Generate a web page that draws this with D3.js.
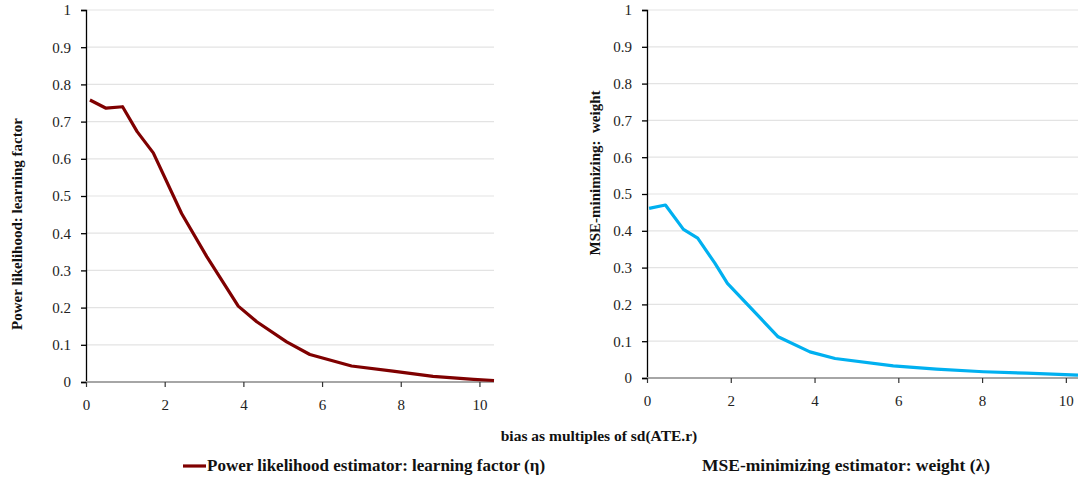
<!DOCTYPE html>
<html>
<head>
<script src='https://d3js.org/d3.v7.min.js'></script>
<style>
body {margin:0; background:#fff;}
.grid line {stroke:#e3e3e3; stroke-width:1.2;}
</style>
</head>
<body>
<svg id='chart' width=1078 height=477></svg>
<script>
// values
var yTicks = [0,0.1,0.2,0.3,0.4,0.5,0.6,0.7,0.8,0.9,1]
var xTicks = [0,2,4,6,8,10]

var etaBias = [0.1,0.51,0.93,1.3,1.71,2.43,3.07,3.87,4.34,5.1,5.69,6.75,7.8,8.82,9.85,10.37]
var etaVals = [0.758,0.736,0.740,0.673,0.616,0.453,0.337,0.204,0.162,0.108,0.074,0.043,0.029,0.015,0.007,0.004]

var lamBias = [0.05,0.44,0.87,1.21,1.62,1.92,3.13,3.89,4.49,5.88,6.91,8.03,9.06,10.29]
var lamVals = [0.461,0.470,0.404,0.380,0.312,0.257,0.112,0.071,0.053,0.033,0.024,0.017,0.013,0.008]

var serif = "'Liberation Serif', 'DejaVu Serif', serif"
var svg = d3.select('#chart')

function panel(opt) {
  var x = d3.scaleLinear().domain([0,opt.xmax]).range([opt.left,opt.right])
  var y = d3.scaleLinear().domain([0,1]).range([opt.bottom,opt.top])

  //gridlines
  svg.append('g').attr('class','grid')
    .selectAll('line').data(yTicks.slice(1)).enter().append('line')
      .attr('x1',opt.left).attr('x2',opt.right)
      .attr('y1',function(d){return y(d)}).attr('y2',function(d){return y(d)})

  //y axis
  var ya = svg.append('g')
     .attr('transform','translate('+opt.left+',0)')
     .call(d3.axisLeft(y).tickValues(yTicks).tickSize(5).tickPadding(10)
        .tickFormat(function(d){return d==0||d==1 ? d : d3.format('.1f')(d)}))
  ya.attr('font-family',serif)
  ya.select('.domain').attr('stroke','#000').attr('stroke-width',1.3)
  ya.selectAll('.tick line').attr('stroke','#000').attr('stroke-width',1.3)
  ya.selectAll('text').style('font-size','15px').style('font-family',serif).attr('fill','#222')

  //x axis
  var xa = svg.append('g')
     .attr('transform','translate(0,'+opt.bottom+')')
     .call(d3.axisBottom(x).tickValues(xTicks).tickSize(5).tickPadding(opt.xpad))
  xa.attr('font-family',serif)
  xa.select('.domain').attr('stroke','#a6a6a6').attr('stroke-width',2.2).attr('d','M'+opt.left+',0H'+opt.right)
  xa.selectAll('.tick line').attr('stroke','#333').attr('stroke-width',1.2)
  xa.selectAll('text').style('font-size','15px').style('font-family',serif).attr('fill','#222')

  //line
  var line = d3.line().x(function(d){return x(d[0])}).y(function(d){return y(d[1])})
  svg.append('path')
    .datum(d3.zip(opt.bias,opt.vals))
    .attr('d',line)
    .attr('fill','none')
    .attr('stroke',opt.color)
    .attr('stroke-width',3.2)
    .attr('stroke-linejoin','round')

  //y label
  svg.append('text')
    .attr('text-anchor','middle')
    .attr('transform','translate('+opt.labx+','+opt.laby+') rotate(-90)')
    .style('font-family',serif).style('font-weight','bold').style('font-size','15px')
    .style('white-space','pre').attr('fill','#111')
    .text(opt.title)
}

panel({left:86,right:494,top:10,bottom:382,xmax:10.37,xpad:12,
       bias:etaBias,vals:etaVals,color:'#7f0000',
       labx:22,laby:224,title:'Power likelihood: learning factor'})

panel({left:647,right:1078,top:10,bottom:378,xmax:10.29,xpad:12,
       bias:lamBias,vals:lamVals,color:'#00b0f0',
       labx:600,laby:173,title:'MSE-minimizing:  weight'})

//x axis title
svg.append('text')
  .attr('text-anchor','middle')
  .attr('x',599).attr('y',441)
  .style('font-family',serif).style('font-weight','bold').style('font-size','15.5px').attr('fill','#111')
  .text('bias as multiples of sd(ATE.r)')

//legend
svg.append('line')
  .attr('x1',183).attr('x2',206).attr('y1',466).attr('y2',466)
  .attr('stroke','#7f0000').attr('stroke-width',3.2)
svg.append('text')
  .attr('x',207).attr('y',471)
  .style('font-family',serif).style('font-weight','bold').style('font-size','17px').attr('fill','#111')
  .text('Power likelihood estimator: learning factor (η)')
svg.append('text')
  .attr('x',702).attr('y',471)
  .style('font-family',serif).style('font-weight','bold').style('font-size','17.5px').attr('fill','#111')
  .text('MSE-minimizing estimator: weight (λ)')
</script>
</body>
</html>
